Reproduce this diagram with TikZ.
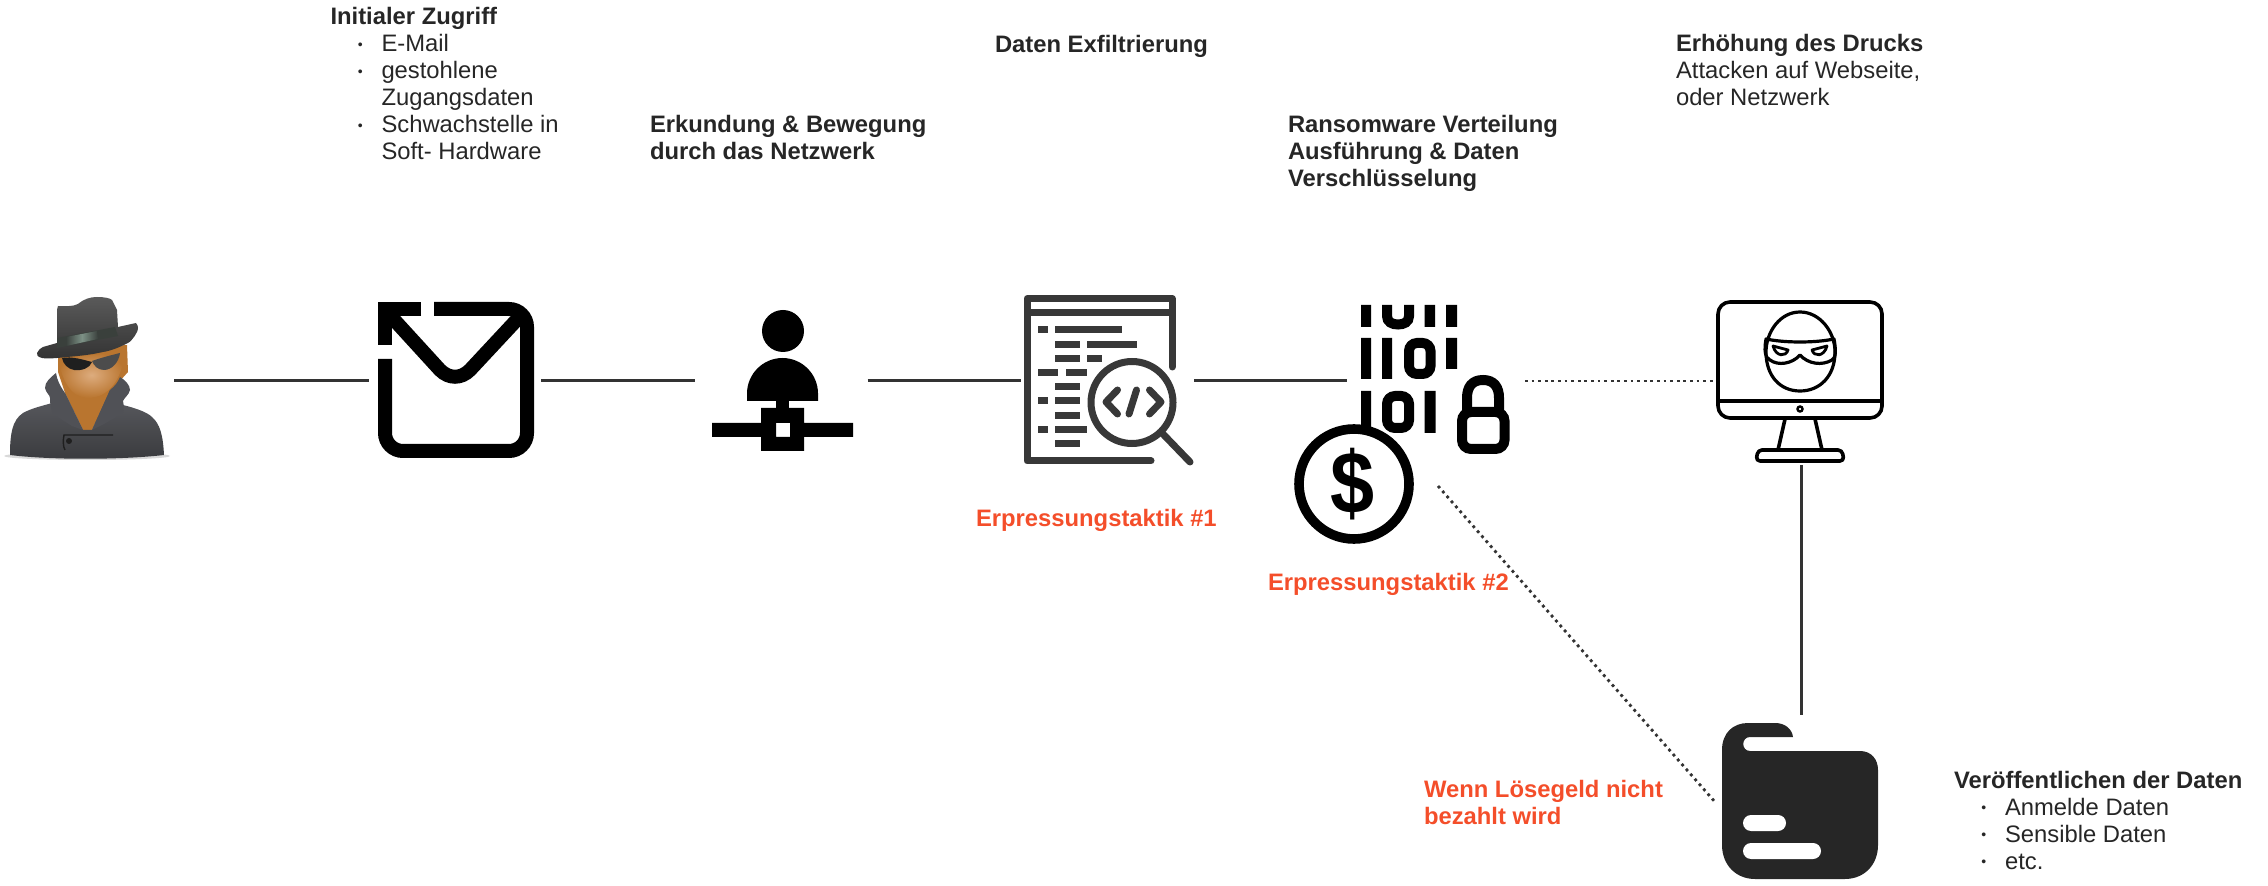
\documentclass[tikz,border=0pt]{standalone}
\usepackage{fontspec}
\setmainfont{Liberation Sans}
\definecolor{ink}{HTML}{262626}
\definecolor{linec}{HTML}{333333}
\definecolor{docc}{HTML}{383838}
\definecolor{redc}{HTML}{F44E2A}
\definecolor{skin}{HTML}{B9752F}
\definecolor{skinl}{HTML}{DDAC7E}
\definecolor{coata}{HTML}{5C5D62}
\definecolor{coatb}{HTML}{3A3B3E}
\definecolor{collar}{HTML}{505156}
\definecolor{hata}{HTML}{5A5A5A}
\definecolor{hatb}{HTML}{333333}
\definecolor{bandc}{HTML}{3A403C}
\definecolor{bandl}{HTML}{7D9186}
\newcommand{\bul}{\hspace*{25.5pt}\llap{{\fontsize{7}{7}\selectfont\raisebox{1.3pt}{•}}\hspace*{9.4pt}}}
\newcommand{\ind}{\hspace*{25.5pt}}
\tikzset{
  anch/.style={inner sep=0pt,outer sep=0pt,minimum width=#1},
  txt/.style={inner sep=0pt,outer sep=0pt,anchor=base west,align=left,text=ink,font=\fontsize{11.9}{13.5}\selectfont},
  btxt/.style={txt,font=\fontsize{11.9}{13.5}\selectfont\bfseries},
  rtxt/.style={btxt,text=redc},
  conn/.style={draw=linec,line width=1.5pt},
  dots/.style={draw=linec,line width=1.4pt,dash pattern=on 1.4pt off 1.9pt},
  blk/.style={draw=black,line cap=butt,line join=miter},
  docl/.style={draw=docc,line width=3.5pt,line cap=round,line join=round},
  docr/.style={draw=docc,line width=3.5pt,line cap=butt},
  monl/.style={draw=black,line width=1.8pt,line join=round},
}
\begin{document}
\begin{tikzpicture}[x=0.5pt,y=-0.5pt]
\useasboundingbox (0,0) rectangle (2268,886);
% anchors for connectors
\node[anch=87pt,minimum height=80pt] (spy) at (87,381) {};
\node[anch=86pt,minimum height=80pt] (mail) at (455,381) {};
\node[anch=86.25pt,minimum height=80pt] (person) at (781.25,381) {};
\node[anch=86.5pt,minimum height=80pt] (doc) at (1107.5,381) {};
\node[anch=89pt,minimum height=80pt] (bin) at (1436,381) {};
\node[anch=86pt,minimum height=84pt] (mon) at (1801,381) {};
\node[anch=86pt,minimum height=87pt] (folder) at (1801,802) {};
\coordinate (cointail) at (1438,486);
% connectors
\draw[conn] (spy) -- (mail);
\draw[conn] (mail) -- (person);
\draw[conn] (person) -- (doc);
\draw[conn] (doc) -- (bin);
\draw[dots] (bin) -- (mon);
\draw[conn] (mon) -- (folder);
\draw[dots] (cointail) -- (folder.west);
% spy
\fill[black!25,opacity=.6] (87,456) ellipse[x radius=83,y radius=4];
\fill[skin] (58,350) -- (127,345) -- (128,372) -- (110,392) -- (92,430) -- (83,430) -- (65,393) -- (58,372) -- cycle;
\shade[top color=coata,bottom color=coatb] (10,455) .. controls (10,435) and (12,420) .. (23,413) .. controls (32,408) and (42,406) .. (52,403) -- (65,393) -- (83,430) -- (92,430) -- (110,390) -- (123,405) .. controls (135,408) and (147,412) .. (152,417) .. controls (160,424) and (163,435) .. (164,455) .. controls (120,460) and (50,460) .. (10,455) -- cycle;
\fill[collar] (56,373) .. controls (50,378) and (45,382) .. (45,388) .. controls (46,393) and (50,395) .. (50,398) .. controls (50,404) and (51,410) .. (53,414) -- (72,426) -- (83,430) -- (65,393) .. controls (60,386) and (57,380) .. (56,373) -- cycle;
\fill[collar] (120,377) .. controls (125,380) and (130,385) .. (130,390) .. controls (129,395) and (124,398) .. (123,401) .. controls (124,405) and (124,410) .. (123,413) -- (104,424) -- (92,430) -- (110,390) .. controls (115,386) and (118,382) .. (120,377) -- cycle;
\draw[black!88,line width=.7pt] (65,450) .. controls (63,447) and (63,440) .. (64,435) -- (113,435);
\fill[black!88] (69,441) circle[radius=3];
\shade[inner color=skinl,outer color=skin] (58,358) -- (125,352) .. controls (122,380) and (108,398) .. (88,398) .. controls (72,398) and (62,382) .. (58,358) -- cycle;
\fill[black!88] (62,358) .. controls (72,356) and (84,360) .. (92,362) .. controls (90,368) and (82,371) .. (74,370) .. controls (68,369) and (63,364) .. (62,358) -- cycle;
\fill[black!70] (92,361) .. controls (100,358) and (112,355) .. (120,353) .. controls (119,362) and (112,370) .. (104,370) .. controls (98,370) and (94,366) .. (92,361) -- cycle;
\shade[top color=hata,bottom color=hatb] (57,310) -- (58,306) .. controls (65,306) and (72,307) .. (78,304) .. controls (84,299) and (90,297) .. (97,297) .. controls (104,297) and (110,298) .. (112,300) -- (117,310) -- (118,327) -- (136,323) .. controls (139,326) and (138,330) .. (137,332) .. controls (134,338) and (130,342) .. (128,343) .. controls (118,348) and (110,351) .. (103,352) .. controls (90,355) and (78,356) .. (67,357) .. controls (58,358) and (48,359) .. (42,358) .. controls (38,357) and (36,355) .. (37,353) .. controls (38,350) and (41,348) .. (43,347) -- (57,343) -- cycle;
\fill[bandc] (57,338) -- (115,327) -- (118,336) -- (57,348) -- cycle;
\shade[left color=bandc,right color=bandc,middle color=bandl] (66,337) -- (97,331) -- (98,339) -- (66,346) -- cycle;
% envelope
\draw[blk,line width=7pt] (421,309) -- (385,309) -- (385,345);
\draw[blk,line width=7pt,rounded corners=9pt] (385,359) -- (385,451) -- (527,451) -- (527,309) -- (434,309);
\draw[blk,line width=7pt] (387,312) -- (440,370) .. controls (449,379) and (461,379) .. (470,370) -- (525,311);
% person
\fill[black] (783,331) circle[radius=21];
\fill[black] (747,401) -- (747,393.5) .. controls (747,374) and (763,358) .. (782.5,358) .. controls (802,358) and (818,374) .. (818,393.5) -- (818,401) -- cycle;
\fill[black] (776,400) rectangle (789,409);
\fill[black,even odd rule] (712,423) -- (761,423) -- (761,408) -- (804,408) -- (804,423) -- (853,423) -- (853,437) -- (804,437) -- (804,451) -- (761,451) -- (761,437) -- (712,437) -- cycle (776,423) rectangle (790,437);
% document
\draw[docl] (1151,461) -- (1027,461) -- (1027,298.5) -- (1172,298.5) -- (1172,367);
\draw[docl,line cap=butt] (1027,313) -- (1172,313);
\foreach \ya/\xa/\xb in {330/1038/1048,330/1055/1122,345/1055/1080,345/1087/1137,359/1055/1080,359/1087/1102,373/1038/1058,373/1066/1087,387/1055/1080,401/1038/1048,401/1055/1080,416/1055/1080,430/1038/1048,430/1055/1087,444/1055/1080}
  \draw[docr] (\xa,\ya) -- (\xb,\ya);
\draw[docc,line width=3.5pt,fill=white] (1132,402.5) circle[radius=41];
\draw[docl] (1162,433) -- (1190,462);
\draw[docl] (1117.5,390) -- (1106,402) -- (1117.5,414);
\draw[docl] (1136.5,390) -- (1129,414);
\draw[docl] (1149.5,390) -- (1161,402) -- (1149.5,414);
% binary
\fill[black] (1361,305) rectangle (1371,327) (1424.5,305) rectangle (1435,327) (1446,305) rectangle (1457,327);
\draw[black,line width=5pt] (1387,305) -- (1387,316) .. controls (1387,322) and (1392,324.5) .. (1398,324.5) .. controls (1404,324.5) and (1409,322) .. (1409,316) -- (1409,305);
\fill[black] (1361,338) rectangle (1371,379) (1382,338) rectangle (1392,379) (1446,338) rectangle (1457,369);
\draw[black,line width=5pt,rounded corners=4pt] (1409,343) rectangle (1430.5,374);
\fill[black] (1361,391) rectangle (1371,428) (1424.5,391) rectangle (1435.5,433);
\draw[black,line width=5pt,rounded corners=4pt] (1387,396) rectangle (1409,428);
% lock
\draw[black,line width=5pt,rounded corners=4.5pt] (1462,412) rectangle (1504.5,449);
\draw[black,line width=5pt] (1467,412) -- (1467,398) .. controls (1467,387) and (1472,380) .. (1483,380) .. controls (1494,380) and (1499,387) .. (1499,398) -- (1499,412);
% coin
\draw[black,line width=4.8pt,fill=white] (1354,484) circle[radius=55];
\node[inner sep=0pt,font=\fontsize{44}{44}\selectfont\bfseries] (dollar) at (1353,484) {\scalebox{.9}[1]{\$}};
% monitor
\draw[monl,rounded corners=6pt] (1718,302) rectangle (1882,418);
\draw[monl] (1718,401) -- (1882,401);
\draw[black,line width=1.2pt] (1800,409) circle[radius=2.5];
\draw[monl] (1785,419) -- (1778,450);
\draw[monl] (1815,419) -- (1822,450);
\draw[monl,rounded corners=2pt] (1758,450) -- (1842,450) -- (1844,461) -- (1756,461) -- cycle;
\draw[monl,line width=1.6pt] (1800,312) .. controls (1820,312) and (1835,332) .. (1835,352) .. controls (1835,376) and (1820,391) .. (1800,391) .. controls (1780,391) and (1766,376) .. (1766,352) .. controls (1766,332) and (1780,312) .. (1800,312) -- cycle;
\draw[monl,line width=1.6pt] (1766,339) .. controls (1785,343) and (1815,343) .. (1834,339) .. controls (1836,350) and (1836,358) .. (1832,360) .. controls (1822,366) and (1808,364) .. (1800,355) .. controls (1792,364) and (1778,366) .. (1770,360) .. controls (1765,358) and (1764,350) .. (1766,339) -- cycle;
\draw[monl,line width=1.4pt] (1773,346) -- (1788,350) .. controls (1786,357) and (1776,357) .. (1773,346) -- cycle;
\draw[monl,line width=1.4pt] (1827,346) -- (1812,350) .. controls (1814,357) and (1824,357) .. (1827,346) -- cycle;
% folder
\fill[ink,even odd rule,rounded corners=0pt] (1722,750) .. controls (1722,733) and (1733,723) .. (1748,723) -- (1775,723) .. controls (1785,723) and (1792,729) .. (1793,737) -- (1750,737) .. controls (1741,737) and (1741,751) .. (1750,751) -- (1860,751) .. controls (1871,751) and (1878,759) .. (1878,770) -- (1878,845) .. controls (1878,865) and (1864,879) .. (1845,879) -- (1755,879) .. controls (1736,879) and (1722,865) .. (1722,845) -- cycle;
\fill[white,rounded corners=4pt] (1743,815) rectangle (1786,831);
\fill[white,rounded corners=4pt] (1743,843) rectangle (1821,859);
% texts
\node[txt] (t1) at (330.5,160) {\textbf{Initialer Zugriff}\\\bul E-Mail\\\bul gestohlene\\\ind Zugangsdaten\\\bul Schwachstelle in\\\ind Soft- Hardware};
\node[btxt] (t2) at (650,160) {Erkundung \& Bewegung\\durch das Netzwerk};
\node[btxt] (t3) at (995,53) {Daten Exfiltrierung};
\node[btxt] (t4) at (1288,187) {Ransomware Verteilung\\Ausführung \& Daten\\Verschlüsselung};
\node[txt] (t5) at (1676,106) {\textbf{Erhöhung des Drucks}\\Attacken auf Webseite,\\oder Netzwerk};
\node[txt] (t6) at (1954,869) {\textbf{Veröffentlichen der Daten}\\\bul Anmelde Daten\\\bul Sensible Daten\\\bul etc.};
\node[rtxt] (r1) at (976,527) {Erpressungstaktik \#1};
\node[rtxt] (r2) at (1268,591) {Erpressungstaktik \#2};
\node[rtxt] (r3) at (1424,824) {Wenn Lösegeld nicht\\bezahlt wird};
\end{tikzpicture}
\end{document}
